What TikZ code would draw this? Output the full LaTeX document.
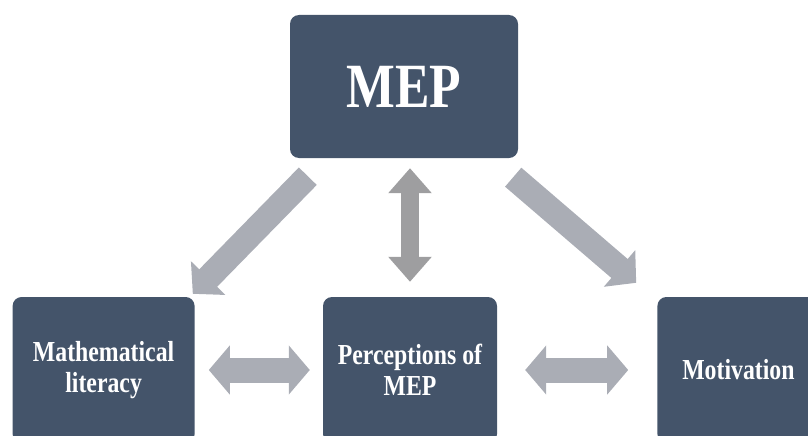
\documentclass[tikz,border=0pt]{standalone}
\usepackage{fontspec}
\setmainfont{Liberation Serif}[FakeStretch=0.82]
\usetikzlibrary{arrows.meta,positioning,calc}
\definecolor{mepnavy}{RGB}{68,84,106}
\definecolor{mepgray}{RGB}{170,173,181}
\definecolor{mepgraydark}{RGB}{158,158,160}
\tikzset{
  mepbox/.style={
    fill=mepnavy,
    draw=none,
    rounded corners=9pt,
    align=center,
    text=white,
    font=\fontsize{29}{31}\selectfont\bfseries,
    minimum height=146pt,
    inner sep=0pt
  },
  meparrow/.style={
    draw=mepgray,
    line width=25pt,
    -{Triangle[width=47pt,length=22pt]}
  },
  mepdouble/.style={
    draw=mepgray,
    line width=25pt,
    {Triangle[width=48pt,length=21pt]}-{Triangle[width=48pt,length=21pt]}
  },
  mepvert/.style={
    draw=mepgraydark,
    line width=18pt,
    {Triangle[width=42pt,length=25pt]}-{Triangle[width=42pt,length=25pt]}
  }
}
\begin{document}
\begin{tikzpicture}[x=1pt,y=-1pt]
  \clip (0,0) rectangle (808,436);
  \node[mepbox, minimum width=228pt, minimum height=143pt, font=\fontsize{63}{63}\selectfont\bfseries] (mep) at (404,86.5) {MEP};
  \node[mepbox, minimum width=174pt] (perc) at (410,370) {Perceptions of\\MEP};
  \node[mepbox, minimum width=182pt, left=128pt of perc] (lit) {Mathematical\\literacy};
  \node[mepbox, minimum width=162pt, right=160pt of perc] (motiv) {Motivation};

  \draw[meparrow] ($(mep.south west)+(18,18)$) -- ($(lit.north east)+(-2,-3)$);
  \draw[meparrow] ($(mep.south east)+(-5,19)$) -- ($(motiv.north west)+(-21,-14)$);
  \draw[mepvert] ($(perc.north |- mep.south)+(0,10)$) -- ($(perc.north)+(0,-15)$);
  \draw[mepdouble] ($(lit.east)+(14,0)$) -- ($(perc.west)+(-13,0)$);
  \draw[mepdouble] ($(perc.east)+(28,0)$) -- ($(motiv.west)+(-29,0)$);
\end{tikzpicture}
\end{document}
